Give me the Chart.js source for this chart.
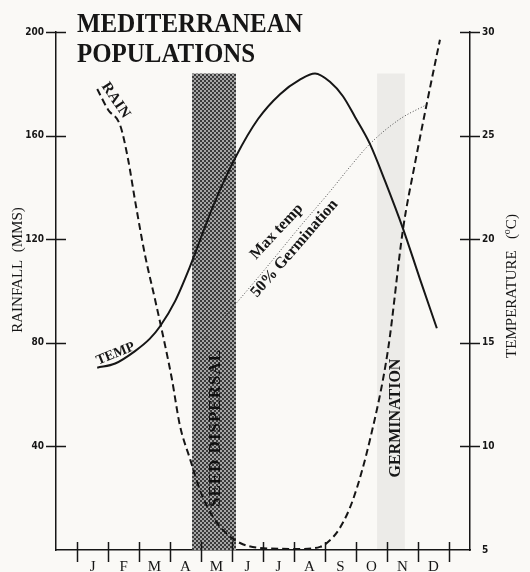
<!DOCTYPE html>
<html>
<head>
<meta charset="utf-8">
<script src="https://cdn.jsdelivr.net/npm/chart.js@4.4.0/dist/chart.umd.min.js"></script>
<style>
  html, body { margin: 0; padding: 0; background: #faf9f6; }
  #wrap { position: relative; width: 530px; height: 572px; }
</style>
</head>
<body>
<div id="wrap"><canvas id="c" width="530" height="572"></canvas></div>
<script>
// Month initials along the bottom axis
const monthLabels = ['J', 'F', 'M', 'A', 'M', 'J', 'J', 'A', 'S', 'O', 'N', 'D'];
const monthBounds = [0, 1, 2, 3, 4, 5, 6, 7, 8, 9, 10, 11, 12];

// Axis tick values
const rainTicks = [0, 40, 80, 120, 160, 200];
const tempTicks = [5, 10, 15, 20, 25, 30];

// Mean temperature (°C) through the year, x in months
const tempMonths = [0.65, 1.23, 1.87, 2.35, 2.68, 3.16, 3.65, 4.39, 5.13, 5.84, 6.55, 7.19, 7.68, 8.16, 8.58, 8.97, 9.45, 9.94, 10.52, 11.06, 11.61];
const tempValues = [13.8, 14.0, 14.6, 15.2, 15.8, 17.0, 18.7, 21.6, 24.0, 25.8, 27.0, 27.7, 28.0, 27.6, 26.9, 25.9, 24.6, 22.8, 20.5, 18.1, 15.7];

// Monthly rainfall (mm), x in months
const rainMonths = [0.65, 1.0, 1.39, 1.65, 1.87, 2.19, 2.52, 2.84, 3.06, 3.32, 3.65, 3.97, 4.35, 4.77, 5.26, 5.9, 7.19, 7.84, 8.06, 8.48, 8.9, 9.45, 10.03, 10.52, 10.9, 11.29, 11.71];
const rainValues = [178, 170, 164, 150.6, 135, 114, 96.5, 79, 66, 48, 35, 23, 13.5, 7, 2.7, 0.8, 0.4, 1.2, 2.7, 8.5, 19.3, 42.5, 77, 124, 149, 172.6, 197];

// Maximum temperature for 50% germination (°C)
const germMonths = [4.13, 5.13, 6.23, 7.19, 8.16, 8.81, 9.45, 10.42, 11.29];
const germTemps = [15.2, 16.9, 18.85, 20.6, 22.3, 23.5, 24.6, 25.8, 26.5];

// Shaded periods (start, end month) and their height on the rainfall scale
const dispersalSpan = [3.71, 5.13];
const germinationSpan = [9.68, 10.58];
const bandHeight = [184, 184];

const INK = '#161616';
const SERIF = '"Liberation Serif", "DejaVu Serif", serif';
const TICKFONT = '"DejaVu Sans Condensed", "Liberation Sans", sans-serif';

const canvas = document.getElementById('c');
const ctx = canvas.getContext('2d');

// Half-tone screen used for the seed dispersal period
function halftone() {
  const t = document.createElement('canvas');
  t.width = 4; t.height = 4;
  const g = t.getContext('2d');
  g.fillStyle = '#a6a6a6';
  g.fillRect(0, 0, 4, 4);
  g.fillStyle = '#3a3a3a';
  g.fillRect(0, 0, 2, 2);
  g.fillRect(2, 2, 2, 2);
  return ctx.createPattern(t, 'repeat');
}

const pts = (xs, ys) => xs.map((x, i) => ({ x: x, y: ys[i] }));

function rotatedText(c, text, x, y, angleDeg, font, opts = {}) {
  c.save();
  c.translate(x, y);
  c.rotate(angleDeg * Math.PI / 180);
  c.font = font;
  c.fillStyle = opts.color || INK;
  c.textAlign = opts.align || 'left';
  c.textBaseline = opts.baseline || 'alphabetic';
  if (opts.spacing) c.letterSpacing = opts.spacing;
  c.fillText(text, 0, 0);
  c.restore();
}

const decorations = {
  id: 'decorations',
  beforeDraw(chart) {
    const c = chart.ctx;
    c.save();
    c.fillStyle = '#faf9f6';
    c.fillRect(0, 0, chart.width, chart.height);
    c.restore();
  },
  afterDraw(chart) {
    const c = chart.ctx;
    const xs = chart.scales.x, ys = chart.scales.y, ts = chart.scales.y2;
    const area = chart.chartArea;
    c.save();
    c.strokeStyle = INK;
    c.lineWidth = 1.5;

    // cross ticks on the month axis
    monthBounds.forEach(m => {
      const px = Math.round(xs.getPixelForValue(m)) + 0.5;
      c.beginPath();
      c.moveTo(px, area.bottom - 8);
      c.lineTo(px, area.bottom + 12);
      c.stroke();
    });
    // cross ticks on the rainfall axis
    rainTicks.filter(v => v > 0).forEach(v => {
      const py = Math.round(ys.getPixelForValue(v)) + 0.5;
      c.beginPath();
      c.moveTo(area.left - 10, py);
      c.lineTo(area.left + 10, py);
      c.stroke();
    });
    // cross ticks on the temperature axis
    tempTicks.filter(v => v > 5).forEach(v => {
      const py = Math.round(ts.getPixelForValue(v)) + 0.5;
      c.beginPath();
      c.moveTo(area.right - 10, py);
      c.lineTo(area.right + 10, py);
      c.stroke();
    });
    c.restore();

    // title
    c.save();
    c.fillStyle = INK;
    c.font = 'bold 28px ' + SERIF;
    c.textBaseline = 'alphabetic';
    c.translate(77, 0);
    c.scale(0.89, 1);
    c.fillText('MEDITERRANEAN', 0, 32);
    c.fillText('POPULATIONS', 0, 62);
    c.restore();

    // axis titles
    rotatedText(c, 'RAINFALL  (MMS)', 18, 270, -90, '15px ' + SERIF, { align: 'center', baseline: 'middle' });
    c.save();
    c.translate(512, 286);
    c.rotate(-Math.PI / 2);
    c.fillStyle = INK;
    c.textBaseline = 'middle';
    c.font = '15px ' + SERIF;
    const p1 = 'TEMPERATURE   (', p3 = 'C)';
    const w1 = c.measureText(p1).width, w3 = c.measureText(p3).width;
    c.font = '10px ' + SERIF;
    const w2 = c.measureText('o').width;
    const x0 = -(w1 + w2 + w3) / 2;
    c.font = '15px ' + SERIF;
    c.fillText(p1, x0, 0);
    c.font = '10px ' + SERIF;
    c.fillText('o', x0 + w1, -5);
    c.font = '15px ' + SERIF;
    c.fillText(p3, x0 + w1 + w2, 0);
    c.restore();

    // curve labels
    const rx = xs.getPixelForValue(rainMonths[0]), ry = ys.getPixelForValue(rainValues[0]);
    rotatedText(c, 'RAIN', rx + 4, ry - 3, 56, 'bold 15px ' + SERIF, { spacing: '0.5px' });
    const tx = xs.getPixelForValue(tempMonths[0]), ty = ts.getPixelForValue(tempValues[0]);
    rotatedText(c, 'TEMP', tx + 1, ty - 3, -22, 'bold 14px ' + SERIF);

    // period labels
    const dCx = (xs.getPixelForValue(dispersalSpan[0]) + xs.getPixelForValue(dispersalSpan[1])) / 2 + 2;
    rotatedText(c, 'SEED DISPERSAL', dCx, 428, -90, 'bold 17px ' + SERIF, { align: 'center', baseline: 'middle', spacing: '1px', color: '#111' });
    const gCx = (xs.getPixelForValue(germinationSpan[0]) + xs.getPixelForValue(germinationSpan[1])) / 2 + 5;
    rotatedText(c, 'GERMINATION', gCx, 418, -90, 'bold 16px ' + SERIF, { align: 'center', baseline: 'middle' });

    // germination threshold label
    rotatedText(c, 'Max temp', 256, 260, -47, 'bold 16px ' + SERIF);
    rotatedText(c, '50% Germination', 257, 298, -49, 'bold 16px ' + SERIF);
  }
};

new Chart(ctx, {
  type: 'line',
  data: {
    datasets: [
      {
        label: 'Temperature',
        data: pts(tempMonths, tempValues),
        yAxisID: 'y2',
        borderColor: INK,
        borderWidth: 2,
        cubicInterpolationMode: 'monotone',
        pointRadius: 0,
        fill: false,
        order: 1
      },
      {
        label: 'Rainfall',
        data: pts(rainMonths, rainValues),
        yAxisID: 'y',
        borderColor: INK,
        borderWidth: 2,
        borderDash: [7, 4],
        cubicInterpolationMode: 'monotone',
        pointRadius: 0,
        fill: false,
        order: 2
      },
      {
        label: 'Max temp 50% Germination',
        data: pts(germMonths, germTemps),
        yAxisID: 'y2',
        borderColor: '#4a4a4a',
        borderWidth: 1,
        borderDash: [1, 2],
        cubicInterpolationMode: 'monotone',
        pointRadius: 0,
        fill: false,
        order: 3
      },
      {
        label: 'Seed dispersal',
        data: pts(dispersalSpan, bandHeight),
        yAxisID: 'y',
        borderWidth: 0,
        borderColor: 'rgba(0,0,0,0)',
        backgroundColor: halftone(),
        pointRadius: 0,
        tension: 0,
        fill: 'origin',
        order: 10
      },
      {
        label: 'Germination',
        data: pts(germinationSpan, bandHeight),
        yAxisID: 'y',
        borderWidth: 0,
        borderColor: 'rgba(0,0,0,0)',
        backgroundColor: 'rgba(0,0,0,0.055)',
        pointRadius: 0,
        tension: 0,
        fill: 'origin',
        order: 11
      }
    ]
  },
  options: {
    responsive: false,
    animation: false,
    events: [],
    layout: { padding: { top: 32, left: 0, right: 0, bottom: 0 } },
    plugins: {
      legend: { display: false },
      tooltip: { enabled: false },
      title: { display: false }
    },
    scales: {
      x: {
        type: 'linear',
        min: -0.68,
        max: 12.68,
        afterBuildTicks: s => { s.ticks = monthLabels.map((_, i) => ({ value: i + 0.5 })); },
        afterFit: s => { s.height = 22; },
        grid: { display: false, drawTicks: false },
        border: { display: true, color: INK, width: 1.5 },
        ticks: {
          autoSkip: false,
          maxRotation: 0,
          padding: 8,
          color: INK,
          font: { family: SERIF, size: 15 },
          callback: (v, i) => monthLabels[i]
        }
      },
      y: {
        type: 'linear',
        position: 'left',
        min: 0,
        max: 200,
        afterBuildTicks: s => { s.ticks = rainTicks.map(v => ({ value: v })); },
        afterFit: s => { s.width = 56; },
        grid: { display: false, drawTicks: false },
        border: { display: true, color: INK, width: 1.5 },
        ticks: {
          padding: 12,
          color: INK,
          font: { family: TICKFONT, size: 10, weight: 'bold' },
          callback: v => (v === 0 ? '' : v)
        }
      },
      y2: {
        type: 'linear',
        position: 'right',
        min: 5,
        max: 30,
        afterBuildTicks: s => { s.ticks = tempTicks.map(v => ({ value: v })); },
        afterFit: s => { s.width = 60; },
        grid: { display: false, drawTicks: false },
        border: { display: true, color: INK, width: 1.5 },
        ticks: {
          padding: 12,
          color: INK,
          font: { family: TICKFONT, size: 10, weight: 'bold' }
        }
      }
    }
  },
  plugins: [decorations]
});
</script>
</body>
</html>
